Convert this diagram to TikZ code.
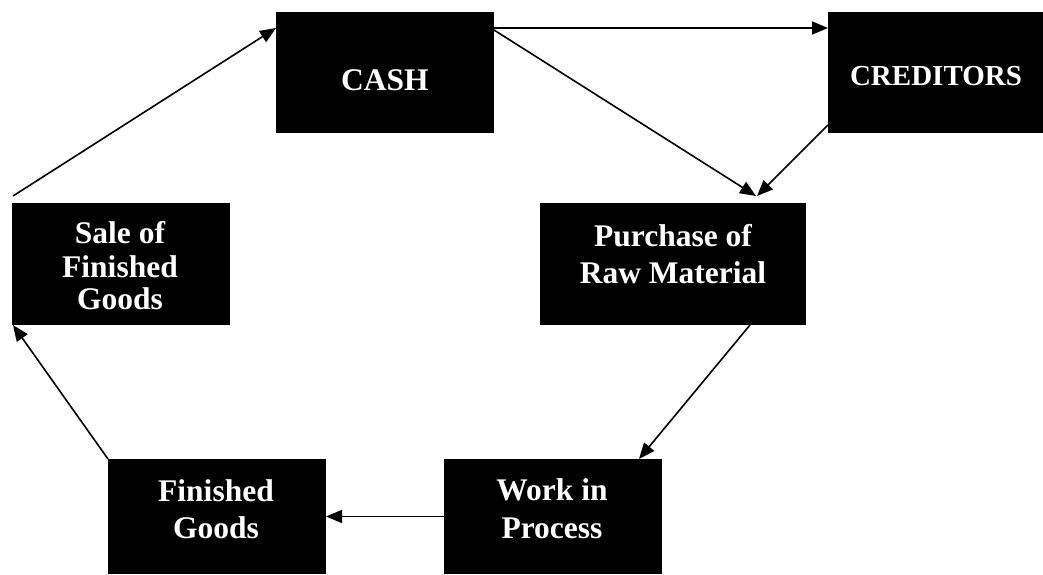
\documentclass[tikz,border=0pt]{standalone}
\usepackage{fontspec}
\setmainfont{Liberation Serif}
\usetikzlibrary{arrows.meta,calc}
\begin{document}
\begin{tikzpicture}[x=1pt,y=1pt,
  blk/.style={draw=none,fill=black,inner sep=0pt,outer sep=0pt,minimum width=#1},
  lbl/.style={text=white,font=\bfseries\fontsize{31.5}{34}\selectfont,anchor=base,inner sep=0pt},
  flow/.style={line width=1.6pt,-{Triangle[length=16pt,width=13pt]}}]
\useasboundingbox (0,0) rectangle (1043,574);
% boxes (y up: y = 574 - pixel row)
\node[blk=218pt,minimum height=121pt] (cash)  at (385,501.5) {};
\node[blk=215pt,minimum height=121pt] (cred)  at (935.5,501.5) {};
\node[blk=266pt,minimum height=122pt] (purch) at (673,310) {};
\node[blk=218pt,minimum height=122pt] (sale)  at (121,310) {};
\node[blk=218pt,minimum height=115pt] (fin)   at (217,57.5) {};
\node[blk=218pt,minimum height=115pt] (work)  at (553,57.5) {};
% texts
\node[lbl] (cashT) at (385,483) {CASH};
\node[lbl,font=\bfseries\fontsize{29}{32}\selectfont] (credT) at (936,488) {CREDITORS};
\node[lbl] (purchT1) at (673,328) {Purchase of};
\node[lbl] (purchT2) at (673,291) {Raw Material};
\node[lbl] (saleT1) at (120,331) {Sale of};
\node[lbl] (saleT2) at (120,297) {Finished};
\node[lbl] (saleT3) at (120,265) {Goods};
\node[lbl] (finT1) at (216,73) {Finished};
\node[lbl] (finT2) at (216,36) {Goods};
\node[lbl] (workT1) at (552,74) {Work in};
\node[lbl] (workT2) at (552,36) {Process};
% connectors
\coordinate (saleStart) at ($(sale.north west)+(1,7)$);
\draw[flow] (saleStart) -- ($(cash.north west)+(0,-16)$);
\draw[flow] ($(cash.north east)+(0,-16)$) -- ($(cred.north west)+(0,-16)$);
\coordinate (meet) at ($(purch.north west)+(216,7)$);
\draw[flow] ($(cash.north east)+(0,-18)$) -- (meet);
\draw[flow] ($(cred.south west)+(0,8)$) -- ($(meet)+(1,0)$);
\draw[flow] ($(purch.south west)+(210,0)$) -- ($(work.north west)+(195,0)$);
\draw[flow] (work.west) -- (fin.east);
\draw[flow] (fin.north west) -- ($(sale.south west)+(1,0)$);
\end{tikzpicture}
\end{document}
